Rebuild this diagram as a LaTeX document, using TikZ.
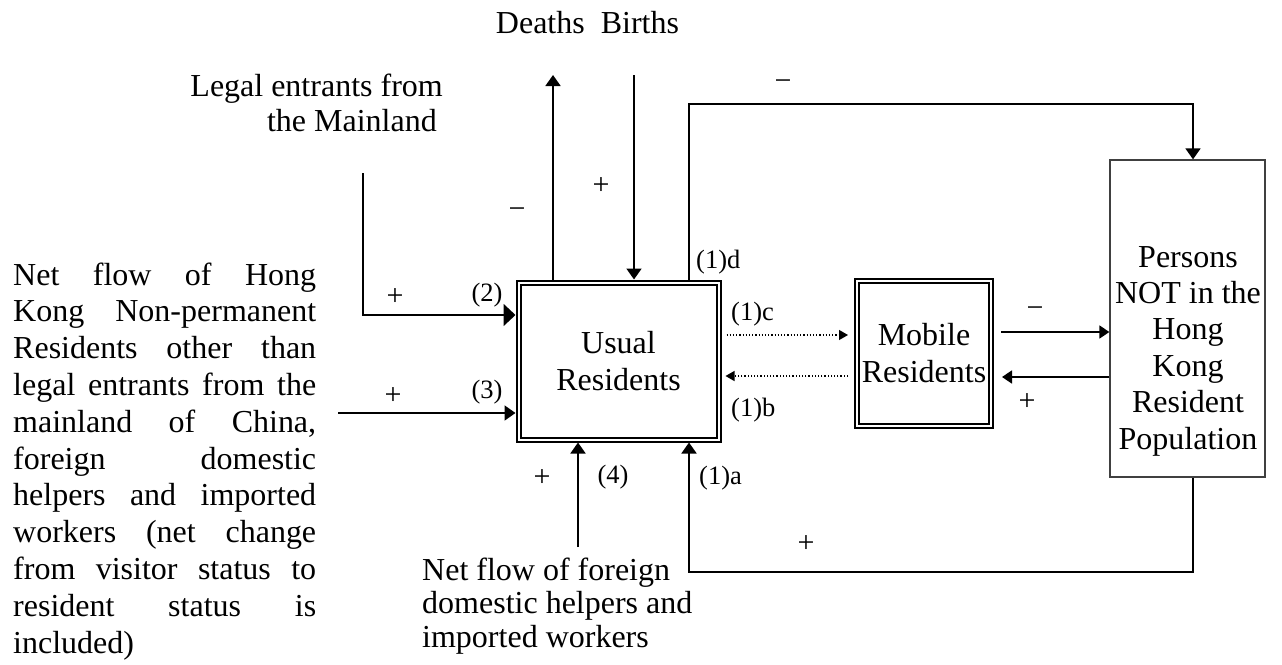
\documentclass[tikz,border=0pt]{standalone}
\usepackage{fontspec}
\setmainfont{Liberation Serif}
\usetikzlibrary{arrows.meta}
\newcommand\bigf{\fontsize{32}{36.8}\selectfont}
\newcommand\boxf{\fontsize{32}{37}\selectfont}
\newcommand\smf{\fontsize{26.5}{29}\selectfont}
\newcommand\sgf{\fontsize{30}{32}\selectfont}
\begin{document}
\begin{tikzpicture}[x=1pt,y=-1pt,
  arr/.style={line width=1.8pt,-{Triangle[length=11pt,width=15pt]}},
  arrbig/.style={line width=1.8pt,-{Triangle[length=12pt,width=22pt]}},
  arrsm/.style={line width=1.8pt,-{Triangle[length=10pt,width=13pt]}},
  dotarr/.style={line width=1.2pt,dash pattern=on 1.2pt off 2pt,-{Triangle[length=9pt,width=10pt]}},
  dbox/.style={draw,line width=2pt,double=white,double distance=2pt,inner sep=0pt,outer sep=3pt,align=center,font=\boxf},
  lab/.style={inner sep=0pt,font=\smf},
  sgn/.style={inner sep=0pt,font=\sgf},
  txt/.style={inner sep=0pt,font=\bigf}
]
\useasboundingbox (0,0) rectangle (1282,664);

% boxes
\node[dbox,minimum width=200pt,minimum height=157pt] (u) at (618.5,361) {Usual\\Residents};
\node[dbox,minimum width=134pt,minimum height=145pt] (m) at (924,353.5) {Mobile\\Residents};
\node[draw=black!75,line width=1.3pt,inner sep=0pt,outer sep=0.65pt,minimum width=155pt,minimum height=317pt] (p) at (1187.5,318.5) {};
\node[txt,anchor=base] (ptext) at (1188,267) {\parbox[t]{150pt}{\centering\fontsize{32}{36.4}\selectfont Persons\\NOT in the\\Hong\\Kong\\Resident\\Population}};

% texts
\node[txt,anchor=base] (db) at (587.5,33) {Deaths\ \ Births};
\node[txt,anchor=base east] (legal) at (443,96) {\parbox[t]{280pt}{\raggedleft\fontsize{32}{35}\selectfont Legal entrants from\\the Mainland\hspace*{6pt}}};
\node[txt,anchor=base west] (left) at (13,653) {\parbox[b]{303pt}{\bigf\setlength{\parindent}{0pt}%
\makebox[303pt][s]{Net flow of Hong}\\
\makebox[303pt][s]{Kong Non-permanent}\\
\makebox[303pt][s]{Residents other than}\\
\makebox[303pt][s]{legal entrants from the}\\
\makebox[303pt][s]{mainland of China,}\\
\makebox[303pt][s]{foreign domestic}\\
\makebox[303pt][s]{helpers and imported}\\
\makebox[303pt][s]{workers (net change}\\
\makebox[303pt][s]{from visitor status to}\\
\makebox[303pt][s]{resident status is}\\
included)}};
\node[txt,anchor=base west] (bot) at (422,580) {\parbox[t]{300pt}{\raggedright\fontsize{32}{33.5}\selectfont Net flow of foreign\\domestic helpers and\\imported workers}};

% coordinates
\coordinate (legS) at (363,173);
\coordinate (y2) at (0,315);
\coordinate (n3) at (338,413);
\coordinate (n4) at (578,547);
\coordinate (dT) at (553,75);
\coordinate (bS) at (634,75);
\coordinate (d1) at (689,104);
\coordinate (topR) at (1193,104);
\coordinate (a1) at (689,572);
\coordinate (yc) at (0,335);
\coordinate (yb) at (0,376);
\coordinate (ym1) at (0,332);
\coordinate (ym2) at (0,377);

% connectors
\draw[arrbig] (legS) |- (u.west |- y2);
\draw[arr] (n3) -- (u.west |- n3);
\draw[arr] (n4) -- (u.south -| n4);
\draw[arr] (u.north -| dT) -- (dT);
\draw[arr] (bS) -- (u.north -| bS);
\draw[arr] (u.north -| d1) |- (topR) -- (p.north -| topR);
\draw[arr] (p.south -| topR) |- (a1) -- (u.south -| a1);
\draw[dotarr,shorten <=5pt,shorten >=6pt] (u.east |- yc) -- (m.west |- yc);
\draw[dotarr,shorten <=6pt,shorten >=4pt] (m.west |- yb) -- (u.east |- yb);
\draw[arrsm,shorten <=7pt] (m.east |- ym1) -- (p.west |- ym1);
\draw[arrsm,shorten >=8pt] (p.west |- ym2) -- (m.east |- ym2);

% labels
\node[sgn] (l1) at (783,85) {−};
\node[sgn] (l2) at (517,213) {−};
\node[sgn] (l3) at (601,186) {+};
\node[sgn] (l4) at (395,297) {+};
\node[lab] (l5) at (487,295) {(2)};
\node[sgn] (l6) at (393,396) {+};
\node[lab] (l7) at (487,392) {(3)};
\node[sgn] (l8) at (542,478) {+};
\node[lab] (l9) at (613,477) {(4)};
\node[lab,anchor=west] (l10) at (699,478) {(1)a};
\node[lab,anchor=west] (l11) at (731,410) {(1)b};
\node[lab,anchor=west] (l12) at (731,314) {(1)c};
\node[lab,anchor=west] (l13) at (696,262) {(1)d};
\node[sgn] (l14) at (806,544) {+};
\node[sgn] (l15) at (1035,312) {−};
\node[sgn] (l16) at (1027,402) {+};
\end{tikzpicture}
\end{document}
